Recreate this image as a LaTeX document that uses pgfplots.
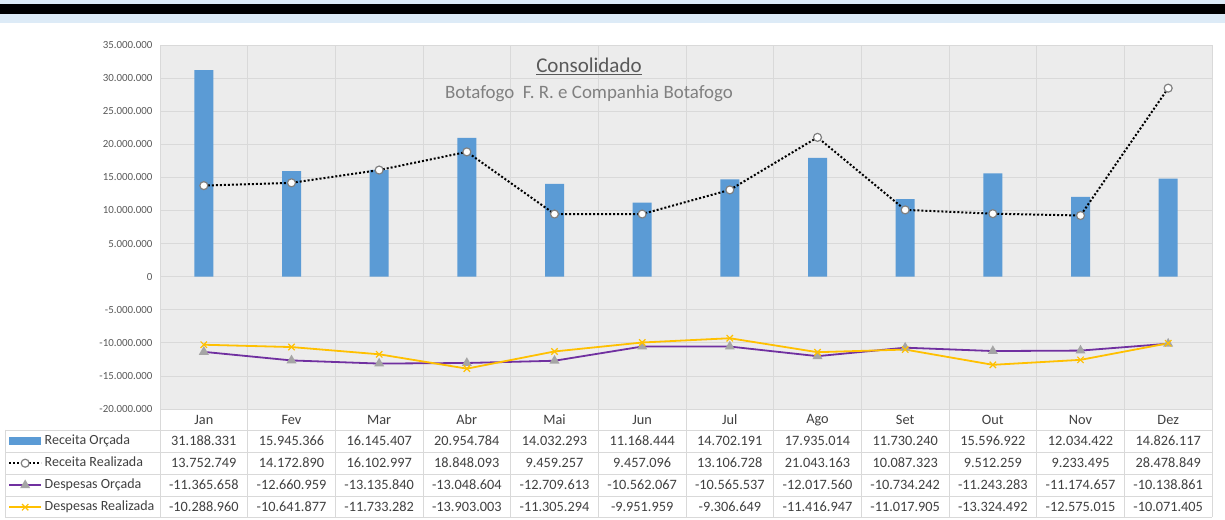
\documentclass[border=0pt]{standalone}
\usepackage{pgfplots}
\pgfplotsset{compat=1.18}
\usepackage{fontspec}
\setmainfont{Carlito}
\definecolor{barc}{HTML}{5B9BD5}
\definecolor{purp}{HTML}{7030A0}
\definecolor{yel}{HTML}{FFC000}
\definecolor{triang}{HTML}{A5A5A5}
\definecolor{topblue}{HTML}{DDEBF7}
\definecolor{plotbg}{HTML}{ECECEC}
\definecolor{gridc}{HTML}{D9D9D9}
\definecolor{tickc}{HTML}{595959}
\definecolor{txtc}{HTML}{404040}
\definecolor{subc}{HTML}{808080}
\newcommand\tablerow[2]{%
  \foreach \v [count=\i from 0] in {#1} {%
    \node[font=\fontsize{14.3}{16}\selectfont, text=txtc, anchor=center] at ({160+87.667*(\i+0.5)},#2) {\v};
  }}
\begin{document}
\begin{tikzpicture}[x=1pt,y=1pt]
\useasboundingbox (0,0) rectangle (1225,519);
\fill[white] (0,0) rectangle (1225,519);
\fill[topblue] (0,496) rectangle (1225,519);
\fill[black] (0,505) rectangle (1225,514.5);
\begin{axis}[
  at={(160pt,110pt)}, anchor=south west,
  scale only axis, width=1052pt, height=364pt,
  xmin=-0.5, xmax=11.5, ymin=-20000000, ymax=35000000,
  axis background/.style={fill=plotbg},
  axis line style={gridc},
  ytick={-20000000,-15000000,-10000000,-5000000,0,5000000,10000000,15000000,20000000,25000000,30000000,35000000},
  scaled y ticks=false,
  yticklabel={\pgfmathprintnumber[fixed,precision=0,1000 sep={.},assume math mode=true]{\tick}},
  yticklabel style={font=\fontsize{10.9}{12}\selectfont, text=tickc, xshift=-4pt},
  xtick={0,...,11},
  xticklabels={Jan,Fev,Mar,Abr,Mai,Jun,Jul,Ago,Set,Out,Nov,Dez},
  xticklabel style={font=\fontsize{14.3}{16}\selectfont, text=txtc, anchor=center, yshift=-11pt},
  minor xtick={-0.5,0.5,...,11.5},
  major tick length=0pt, minor tick length=0pt,
  ymajorgrids, xminorgrids,
  grid style={gridc, line width=0.8pt},
  clip=false,
  legend style={at={(-0.1445,-0.0577)}, anchor=north west, draw=none, fill=none,
    font=\fontsize{14}{16}\selectfont, text=txtc, inner sep=0pt, row sep=0pt,
    nodes={inner sep=0pt, minimum height=22pt, text height=9pt, text depth=3pt, anchor=west},
    legend cell align=left, column sep=2.5pt},
]
\addplot[ybar, bar width=19pt, bar shift=0pt, fill=barc, draw=none,
  legend image code/.code={\fill[barc] (0pt,-4pt) rectangle (32pt,4pt);}]
  coordinates {(0,31188331) (1,15945366) (2,16145407) (3,20954784) (4,14032293) (5,11168444)
  (6,14702191) (7,17935014) (8,11730240) (9,15596922) (10,12034422) (11,14826117)};
\addlegendentry{Receita Orçada}
\addplot[black, line width=2pt, dash pattern=on 2pt off 2pt, mark=*, mark size=4pt,
  mark options={solid, draw=subc, fill=white, line width=1.2pt},
  legend image code/.code={\draw[mark repeat=2,mark phase=2] plot coordinates {(0pt,0pt) (16pt,0pt) (32pt,0pt)};}]
  coordinates {(0,13752749) (1,14172890) (2,16102997) (3,18848093) (4,9459257) (5,9457096)
  (6,13106728) (7,21043163) (8,10087323) (9,9512259) (10,9233495) (11,28478849)};
\addlegendentry{Receita Realizada}
\addplot[purp, line width=1.8pt, mark=triangle*, mark size=4pt,
  mark options={solid, draw=triang, fill=triang},
  legend image code/.code={\draw[mark repeat=2,mark phase=2] plot coordinates {(0pt,0pt) (16pt,0pt) (32pt,0pt)};}]
  coordinates {(0,-11365658) (1,-12660959) (2,-13135840) (3,-13048604) (4,-12709613) (5,-10562067)
  (6,-10565537) (7,-12017560) (8,-10734242) (9,-11243283) (10,-11174657) (11,-10138861)};
\addlegendentry{Despesas Orçada}
\addplot[yel, line width=1.8pt, mark=x, mark size=4.5pt,
  mark options={solid, line width=1.2pt},
  legend image code/.code={\draw[mark repeat=2,mark phase=2] plot coordinates {(0pt,0pt) (16pt,0pt) (32pt,0pt)};}]
  coordinates {(0,-10288960) (1,-10641877) (2,-11733282) (3,-13903003) (4,-11305294) (5,-9951959)
  (6,-9306649) (7,-11416947) (8,-11017905) (9,-13324492) (10,-12575015) (11,-10071405)};
\addlegendentry{Despesas Realizada}
\end{axis}
% title
\node[font=\fontsize{21}{23}\selectfont, text=tickc, anchor=base] at (589,446.7) {\underline{Consolidado}};
\node[font=\fontsize{18.9}{21}\selectfont, text=subc, anchor=base] at (589,420.7) {Botafogo\ \ F. R. e Companhia Botafogo};
% table grid
\foreach \yy in {89,67,45,23,2} {\draw[gridc, line width=0.8pt] (5,\yy) -- (1212,\yy);}
\foreach \k in {0,...,12} {\draw[gridc, line width=0.8pt] ({160+87.667*\k},110) -- ({160+87.667*\k},2);}
\draw[gridc, line width=0.8pt] (5,89) -- (5,2);
% table numbers
\tablerow{31.188.331,15.945.366,16.145.407,20.954.784,14.032.293,11.168.444,14.702.191,17.935.014,11.730.240,15.596.922,12.034.422,14.826.117}{78}
\tablerow{13.752.749,14.172.890,16.102.997,18.848.093,9.459.257,9.457.096,13.106.728,21.043.163,10.087.323,9.512.259,9.233.495,28.478.849}{56}
\tablerow{-11.365.658,-12.660.959,-13.135.840,-13.048.604,-12.709.613,-10.562.067,-10.565.537,-12.017.560,-10.734.242,-11.243.283,-11.174.657,-10.138.861}{34}
\tablerow{-10.288.960,-10.641.877,-11.733.282,-13.903.003,-11.305.294,-9.951.959,-9.306.649,-11.416.947,-11.017.905,-13.324.492,-12.575.015,-10.071.405}{12}
\end{tikzpicture}
\end{document}
